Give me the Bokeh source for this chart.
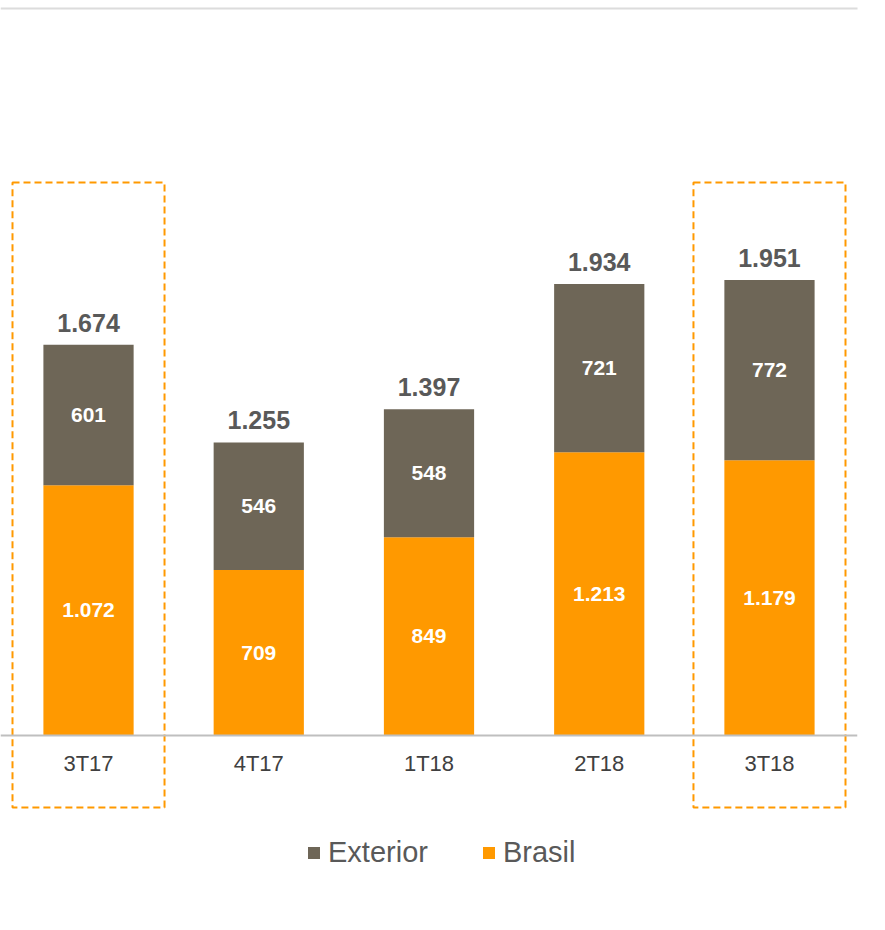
from bokeh.plotting import figure
from bokeh.models import (ColumnDataSource, FactorRange, Range1d, Span, Legend, LegendItem,
                          BoxAnnotation)
from bokeh.core.properties import value
from bokeh.embed import file_html
from bokeh.resources import INLINE

# ---- data ----
quarters = ["3T17", "4T17", "1T18", "2T18", "3T18"]
brasil = [1072, 709, 849, 1213, 1179]
exterior = [601, 546, 548, 721, 772]
totals = [1674, 1255, 1397, 1934, 1951]
highlighted = ["3T17", "3T18"]

BRASIL_C = "#FF9900"
EXT_C = "#6E6657"
FONT = "Liberation Sans"

def fmt(v):
    return f"{v:,}".replace(",", ".")

stack_top = [b + e for b, e in zip(brasil, exterior)]
src = ColumnDataSource(dict(
    q=quarters,
    brasil=brasil,
    exterior=exterior,
    top=stack_top,
    b_mid=[b / 2 for b in brasil],
    e_mid=[b + e / 2 for b, e in zip(brasil, exterior)],
    b_lab=[fmt(v) for v in brasil],
    e_lab=[fmt(v) for v in exterior],
    t_lab=[fmt(v) for v in totals],
    zero=[0] * len(quarters),
))

p = figure(width=869, height=914, output_backend="svg", toolbar_location=None,
           x_range=FactorRange(*quarters, range_padding=0.017, range_padding_units="absolute"),
           y_range=Range1d(-766.6, 3147.8),
           min_border_left=0, min_border_right=12, min_border_top=0, min_border_bottom=0)
p.axis.visible = False
p.grid.visible = False
p.outline_line_color = None
p.background_fill_color = "white"
p.border_fill_color = "white"

# top thin rule
p.add_layout(BoxAnnotation(left=0, right=869, top=7, bottom=9,
                           left_units="canvas", right_units="canvas",
                           top_units="canvas", bottom_units="canvas",
                           fill_color="#DCDCDC", fill_alpha=1.0, line_color=None))

bw = 0.53
r_b = p.vbar(x="q", bottom=0, top="brasil", width=bw, source=src,
             fill_color=BRASIL_C, line_color=None)
r_e = p.vbar(x="q", bottom="brasil", top="top", width=bw, source=src,
             fill_color=EXT_C, line_color=None)

# baseline
p.add_layout(Span(location=0, dimension="width", line_color="#BFBFBF", line_width=2))

# highlight boxes
hsrc = ColumnDataSource(dict(q=highlighted, y=[(2368 - 308) / 2] * 2, h=[2368 + 308] * 2))
p.rect(x="q", y="y", width=0.893, height="h", source=hsrc, fill_color=None,
       line_color=BRASIL_C, line_width=2, line_dash="7 4")

# labels
p.text(x="q", y="b_mid", text="b_lab", source=src, text_align="center", text_baseline="middle",
       text_color="white", text_font=value(FONT), text_font_style="bold", text_font_size="21px")
p.text(x="q", y="e_mid", text="e_lab", source=src, text_align="center", text_baseline="middle",
       text_color="white", text_font=value(FONT), text_font_style="bold", text_font_size="21px")
p.text(x="q", y="top", text="t_lab", source=src, text_align="center", text_baseline="middle",
       y_offset=-22, text_color="#595959", text_font=value(FONT), text_font_style="bold",
       text_font_size="25px")
p.text(x="q", y="zero", text="q", source=src, text_align="center", text_baseline="middle",
       y_offset=28, text_color="#404040", text_font=value(FONT), text_font_size="22px")

legend = Legend(items=[LegendItem(label="Exterior", renderers=[r_e]),
                       LegendItem(label="Brasil", renderers=[r_b])],
                orientation="horizontal", location=(306, 45),
                glyph_width=15, glyph_height=15, label_standoff=7, spacing=53,
                label_text_font=FONT, label_text_font_size="29px", label_text_color="#595959",
                padding=0, margin=0, border_line_color=None, background_fill_alpha=0)
p.add_layout(legend)

open("out.html", "w").write(file_html(p, INLINE))
